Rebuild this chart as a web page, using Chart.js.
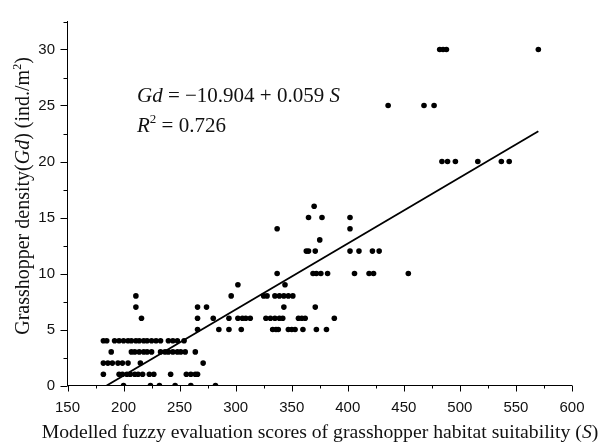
<!DOCTYPE html>
<html>
<head>
<meta charset="utf-8">
<script src="https://cdn.jsdelivr.net/npm/chart.js@4"></script>
<style>
  html, body { margin: 0; padding: 0; background: #fff; }
  #wrap { width: 598px; height: 448px; position: relative; }
</style>
</head>
<body>
<div id="wrap"><canvas id="chart"></canvas></div>
<script>
// Fuzzy evaluation score S and grasshopper density Gd, one row per Gd level
const scoreS = [
    200, 224, 232, 246, 260, 282,
    182, 196, 199, 203, 206, 210, 213, 217, 223, 227, 242, 256, 260, 264, 266,
    182, 186, 190, 195, 199, 204, 215, 271,
    189, 207, 210, 214, 218, 221, 225, 233, 237, 240, 244, 248, 251, 255, 264,
    182, 185, 192, 196, 200, 204, 207, 211, 214, 218, 221, 225, 229, 233, 240, 244, 248, 254,
    266, 285, 294, 305, 333, 336, 338, 347, 350, 353, 360, 372, 381,
    216, 266, 280, 294, 302, 306, 309, 313, 327, 331, 335, 339, 342, 356, 359, 362, 388,
    211, 266, 274, 343, 371,
    211, 296, 325, 328, 335, 339, 343, 347, 351,
    302, 344,
    337, 369, 372, 376, 382, 406, 419, 423, 454,
    363, 365, 371, 402, 410, 422, 428,
    375,
    337, 402,
    365, 377, 402,
    370,
    484, 489, 496, 516, 537, 544,
    436, 468, 477,
    482, 485, 488, 570
];
const densityGd = [
    0, 0, 0, 0, 0, 0,
    1, 1, 1, 1, 1, 1, 1, 1, 1, 1, 1, 1, 1, 1, 1,
    2, 2, 2, 2, 2, 2, 2, 2,
    3, 3, 3, 3, 3, 3, 3, 3, 3, 3, 3, 3, 3, 3, 3,
    4, 4, 4, 4, 4, 4, 4, 4, 4, 4, 4, 4, 4, 4, 4, 4, 4, 4,
    5, 5, 5, 5, 5, 5, 5, 5, 5, 5, 5, 5, 5,
    6, 6, 6, 6, 6, 6, 6, 6, 6, 6, 6, 6, 6, 6, 6, 6, 6,
    7, 7, 7, 7, 7,
    8, 8, 8, 8, 8, 8, 8, 8, 8,
    9, 9,
    10, 10, 10, 10, 10, 10, 10, 10, 10,
    12, 12, 12, 12, 12, 12, 12,
    13,
    14, 14,
    15, 15, 15,
    16,
    20, 20, 20, 20, 20, 20,
    25, 25, 25,
    30, 30, 30, 30
];

// fitted line end points
const fitS = [185, 570];
const fitGd = [0, 22.7];

const xTicks = [150, 200, 250, 300, 350, 400, 450, 500, 550, 600];
const yTicks = [0, 5, 10, 15, 20, 25, 30];

const serif = '"Liberation Serif", "Times New Roman", serif';
const sans = '"Liberation Sans", Arial, sans-serif';

// draw a run of text pieces, each can be italic or superscript
function drawRich(ctx, parts, x, y, size, align) {
    const fontFor = p => (p.italic ? 'italic ' : '') + (p.sup ? Math.round(size * 0.62) : size) + 'px ' + serif;
    let total = 0;
    parts.forEach(p => {
        ctx.font = fontFor(p);
        p.w = ctx.measureText(p.text).width;
        total += p.w;
    });
    let cx = align === 'center' ? x - total / 2 : x;
    parts.forEach(p => {
        ctx.font = fontFor(p);
        ctx.fillText(p.text, cx, p.sup ? y - size * 0.42 : y);
        cx += p.w;
    });
}

const tickMarks = {
    id: 'tickMarks',
    afterDraw(chart) {
        const { ctx, scales: { x, y } } = chart;
        ctx.save();
        ctx.strokeStyle = '#000';
        ctx.lineWidth = 1;
        ctx.beginPath();
        x.ticks.forEach(t => {
            const px = Math.round(x.getPixelForValue(t.value)) + 0.5;
            const len = t.value % 50 === 0 ? 6 : 3;
            ctx.moveTo(px, x.top);
            ctx.lineTo(px, x.top + len);
        });
        y.ticks.forEach(t => {
            const py = Math.round(y.getPixelForValue(t.value)) + 0.5;
            const len = t.value % 5 === 0 ? 7 : 4;
            ctx.moveTo(y.right, py);
            ctx.lineTo(y.right - len, py);
        });
        ctx.stroke();
        ctx.restore();
    }
};

const textLabels = {
    id: 'textLabels',
    afterDraw(chart) {
        const ctx = chart.ctx;
        ctx.save();
        ctx.fillStyle = '#111';
        ctx.textBaseline = 'alphabetic';
        ctx.textAlign = 'left';

        // x axis title
        drawRich(ctx, [
            { text: 'Modelled fuzzy evaluation scores of grasshopper habitat suitability (' },
            { text: 'S', italic: true },
            { text: ')' }
        ], 320, 438, 19.7, 'center');

        // y axis title
        ctx.save();
        ctx.translate(29, 196);
        ctx.rotate(-Math.PI / 2);
        drawRich(ctx, [
            { text: 'Grasshopper density(' },
            { text: 'Gd', italic: true },
            { text: ') (ind./m' },
            { text: '2', sup: true },
            { text: ')' }
        ], 0, 0, 20, 'center');
        ctx.restore();

        // regression equation
        drawRich(ctx, [
            { text: 'Gd', italic: true },
            { text: ' = \u221210.904 + 0.059 ' },
            { text: 'S', italic: true }
        ], 137, 102, 21, 'left');
        drawRich(ctx, [
            { text: 'R', italic: true },
            { text: '2', sup: true },
            { text: ' = 0.726' }
        ], 137, 132, 21, 'left');
        ctx.restore();
    }
};

const points = scoreS.map((s, i) => ({ x: s, y: densityGd[i] }));
const fitLine = fitS.map((s, i) => ({ x: s, y: fitGd[i] }));

new Chart(document.getElementById('chart'), {
    type: 'scatter',
    data: {
        datasets: [
            {
                data: points,
                pointRadius: 2.8,
                pointBackgroundColor: '#000',
                pointBorderWidth: 0,
                pointHoverRadius: 2.8
            },
            {
                type: 'line',
                data: fitLine,
                borderColor: '#000',
                borderWidth: 1.8,
                pointRadius: 0,
                fill: false
            }
        ]
    },
    options: {
        responsive: true,
        maintainAspectRatio: false,
        animation: false,
        layout: { padding: { top: 8.5, right: 21.3, left: 0, bottom: 0 } },
        plugins: {
            legend: { display: false },
            tooltip: { enabled: false }
        },
        scales: {
            x: {
                type: 'linear',
                min: 150,
                max: 600,
                afterFit: s => { s.height = 62.5; },
                afterBuildTicks: s => {
                    const t = [];
                    for (let v = 150; v <= 600; v += 25) t.push({ value: v });
                    s.ticks = t;
                },
                grid: { display: false, drawTicks: false },
                border: { display: true, color: '#000', width: 1 },
                ticks: {
                    padding: 13.5,
                    color: '#111',
                    font: { family: sans, size: 15 },
                    maxRotation: 0,
                    autoSkip: false,
                    callback: v => xTicks.includes(v) ? String(v) : ''
                }
            },
            y: {
                type: 'linear',
                min: 0,
                max: 32.5,
                afterFit: s => { s.width = 67.5; },
                afterBuildTicks: s => {
                    const t = [];
                    for (let v = 0; v <= 32.5; v += 2.5) t.push({ value: v });
                    s.ticks = t;
                },
                grid: { display: false, drawTicks: false },
                border: { display: true, color: '#000', width: 1 },
                ticks: {
                    padding: 12.5,
                    color: '#111',
                    font: { family: sans, size: 15 },
                    autoSkip: false,
                    callback: v => yTicks.includes(v) ? String(v) : ''
                }
            }
        }
    },
    plugins: [tickMarks, textLabels]
});
</script>
</body>
</html>
